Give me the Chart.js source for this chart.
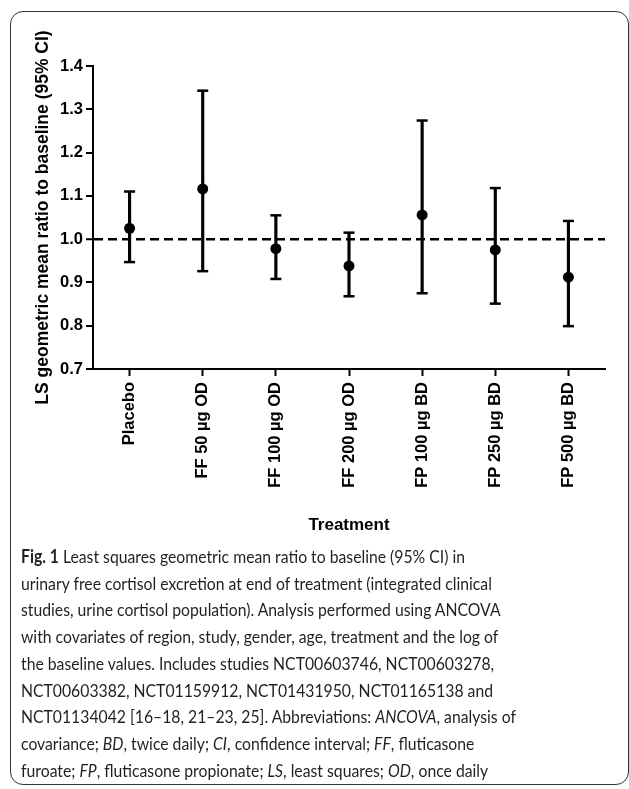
<!DOCTYPE html>
<html lang="en">
<head>
  <meta charset="UTF-8" />
  <title>Fig. 1 LS geometric mean ratio to baseline</title>
  <script src="https://cdn.jsdelivr.net/npm/chart.js"></script>
  <style>
    body {
      margin: 0;
      background: #fff;
      width: 629px;
      height: 789px;
      position: relative;
      overflow: hidden;
    }
    .frame {
      position: absolute;
      left: 10px;
      top: 11px;
      width: 619px;
      height: 774px;
      border: 1.5px solid #333;
      border-radius: 13px;
      box-sizing: border-box;
    }
    #wrap {
      position: absolute;
      left: 0;
      top: 0;
      width: 629px;
      height: 545px;
    }
    .caption {
      position: absolute;
      left: 21px;
      top: 543px;
      font-family: Lato, "Open Sans", sans-serif;
      font-size: 18px;
      line-height: 26.7px;
      color: #231f20;
      white-space: nowrap;
      transform: scaleX(0.875);
      transform-origin: 0 0;
    }
    .caption b { font-weight: 700; }
  </style>
</head>
<body>
  <div class="frame"></div>
  <div id="wrap"><canvas id="chart"></canvas></div>
  <div class="caption" id="caption">
    <b>Fig. 1</b> Least squares geometric mean ratio to baseline (95% CI) in<br>
    urinary free cortisol excretion at end of treatment (integrated clinical<br>
    studies, urine cortisol population). Analysis performed using ANCOVA<br>
    with covariates of region, study, gender, age, treatment and the log of<br>
    the baseline values. Includes studies NCT00603746, NCT00603278,<br>
    NCT00603382, NCT01159912, NCT01431950, NCT01165138 and<br>
    NCT01134042 [16–18, 21–23, 25]. Abbreviations: <i>ANCOVA</i>, analysis of<br>
    covariance; <i>BD</i>, twice daily; <i>CI</i>, confidence interval; <i>FF</i>, fluticasone<br>
    furoate; <i>FP</i>, fluticasone propionate; <i>LS</i>, least squares; <i>OD</i>, once daily
  </div>

  <script>
    const treatments = ["Placebo", "FF 50 µg OD", "FF 100 µg OD", "FF 200 µg OD", "FP 100 µg BD", "FP 250 µg BD", "FP 500 µg BD"];
    const meanRatio = [1.025, 1.116, 0.978, 0.938, 1.056, 0.975, 0.912];
    const ciLower = [0.947, 0.926, 0.908, 0.868, 0.875, 0.851, 0.799];
    const ciUpper = [1.110, 1.343, 1.055, 1.015, 1.274, 1.118, 1.042];
    const yMin = 0.7, yMax = 1.4, yStep = 0.1;
    const refValue = 1.0;

    const font = "'Liberation Sans', Arial, sans-serif";

    new Chart(document.getElementById("chart"), {
      type: "bar",
      data: {
        labels: treatments,
        datasets: [
          {
            // whiskers
            type: "bar",
            data: ciLower.map((lo, i) => [lo, ciUpper[i]]),
            backgroundColor: "#000",
            barThickness: 2.5,
            borderWidth: 0,
            order: 3
          },
          {
            // caps, upper
            type: "line",
            data: ciUpper,
            showLine: false,
            pointStyle: "line",
            pointRadius: 5.5,
            pointBorderWidth: 2.5,
            borderColor: "#000",
            order: 2
          },
          {
            // caps, lower
            type: "line",
            data: ciLower,
            showLine: false,
            pointStyle: "line",
            pointRadius: 5.5,
            pointBorderWidth: 2.5,
            borderColor: "#000",
            order: 2
          },
          {
            type: "line",
            data: meanRatio,
            showLine: false,
            pointStyle: "circle",
            pointRadius: 5.5,
            pointBackgroundColor: "#000",
            pointBorderColor: "#000",
            pointBorderWidth: 0,
            order: 1
          }
        ]
      },
      options: {
        responsive: true,
        maintainAspectRatio: false,
        animation: false,
        layout: { padding: { left: 0, top: 66, right: 24, bottom: 0 } },
        plugins: { legend: { display: false }, tooltip: { enabled: false } },
        scales: {
          x: {
            offset: true,
            afterFit: s => { s.height = 176; },
            grid: { offset: false, drawOnChartArea: false, tickLength: 7, tickWidth: 2, tickColor: "#000" },
            border: { color: "#000", width: 2 },
            ticks: {
              minRotation: 90, maxRotation: 90, autoSkip: false, padding: 6,
              color: "#000", font: { family: font, size: 16.5, weight: "bold" }
            },
            title: {
              display: true, text: "Treatment", color: "#000",
              font: { family: font, size: 17, weight: "bold" },
              padding: { top: 0, bottom: 9 }
            }
          },
          y: {
            min: yMin, max: yMax,
            afterFit: s => { s.width = 93; },
            grid: {
              color: c => Math.abs(c.tick.value - refValue) < 1e-6 ? "#000" : "rgba(0,0,0,0)",
              lineWidth: c => Math.abs(c.tick.value - refValue) < 1e-6 ? 2.5 : 0,
              tickLength: 7, tickWidth: 2, tickColor: "#000"
            },
            border: {
              color: "#000", width: 2,
              dash: c => (c.tick && Math.abs(c.tick.value - refValue) < 1e-6) ? [9, 5] : []
            },
            ticks: {
              stepSize: yStep, padding: 3, color: "#000",
              font: { family: font, size: 16.5, weight: "bold" },
              callback: v => v.toFixed(1)
            },
            title: {
              display: true, text: "LS geometric mean ratio to baseline (95% CI)", color: "#000",
              font: { family: font, size: 17.5, weight: "bold" },
              padding: { top: 33, bottom: 0 }
            }
          }
        }
      }
    });
  </script>
</body>
</html>
